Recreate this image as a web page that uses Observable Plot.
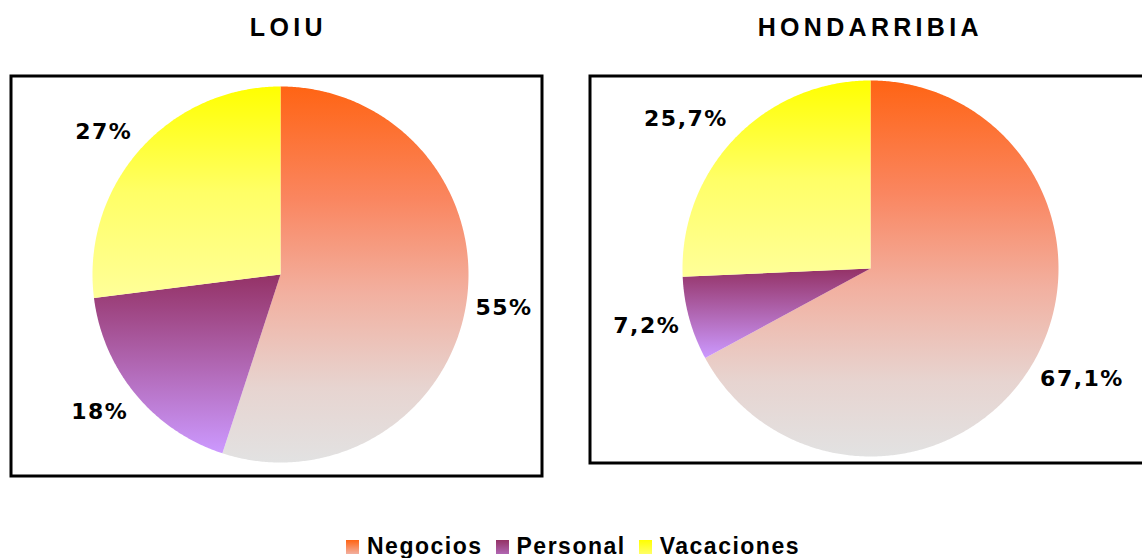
<!DOCTYPE html>
<html>
<head>
<meta charset="utf-8">
<script src="https://cdn.jsdelivr.net/npm/d3@7"></script>
<script src="https://cdn.jsdelivr.net/npm/@observablehq/plot@0.6"></script>
<style>
  html, body { margin: 0; padding: 0; background: #fff; }
  body { position: relative; width: 1142px; height: 558px; overflow: hidden; }
  .title { position: absolute; top: 15px; width: 300px; text-align: center;
    font-family: "Liberation Sans", Arial, sans-serif; font-weight: bold; font-size: 25px;
    line-height: 25px; letter-spacing: 4.3px; padding-left: 4.3px; color: #000; }
  .chart { position: absolute; }
  .chart svg { max-width: none !important; display: block; }
  .chart text { letter-spacing: 1.5px; }
  .legend { position: absolute; left: 346px; top: 535px; display: flex; align-items: center;
    font-family: "Liberation Sans", Arial, sans-serif; font-weight: bold; font-size: 23px;
    line-height: 23px; letter-spacing: 1.5px; color: #000; white-space: nowrap; }
  .legend .item { display: flex; align-items: center; margin-right: 13px; }
  .legend .sw { width: 13px; height: 14px; margin-right: 8px; }
</style>
</head>
<body>
<svg width="0" height="0" style="position:absolute">
  <defs id="defs"></defs>
</svg>
<div id="root"></div>
<script>
// ---- data ----
const categories = ["Negocios", "Personal", "Vacaciones"];
const airports = ["LOIU", "HONDARRIBIA"];
const loiuValues = [55, 18, 27];
const hondarribiaValues = [67.1, 7.2, 25.7];
const loiuLabels = ["55%", "18%", "27%"];
const hondarribiaLabels = ["67,1%", "7,2%", "25,7%"];

// ---- styles ----
const gradientStops = {
  Negocios: [[0, "#FF6414"], [0.3, "#FA8660"], [0.55, "#F2B0A0"], [0.8, "#E7D4D0"], [1, "#E2E2E2"]],
  Personal: [[0, "#943266"], [0.5, "#B066B2"], [1, "#CC99FF"]],
  Vacaciones: [[0, "#FFFF00"], [0.5, "#FFFF66"], [1, "#FFFF99"]]
};

// gradient defs
const defs = document.getElementById("defs");
const NS = "http://www.w3.org/2000/svg";
for (const c of categories) {
  const lg = document.createElementNS(NS, "linearGradient");
  lg.setAttribute("id", "g-" + c);
  lg.setAttribute("x1", "0"); lg.setAttribute("y1", "0");
  lg.setAttribute("x2", "0"); lg.setAttribute("y2", "1");
  for (const [o, col] of gradientStops[c]) {
    const s = document.createElementNS(NS, "stop");
    s.setAttribute("offset", o);
    s.setAttribute("stop-color", col);
    lg.appendChild(s);
  }
  defs.appendChild(lg);
}

function pieSlices(values) {
  const total = d3.sum(values);
  let acc = 0;
  return values.map((v, i) => {
    const a0 = acc / total * 2 * Math.PI;
    acc += v;
    const a1 = acc / total * 2 * Math.PI;
    const n = Math.max(2, Math.ceil((a1 - a0) / (Math.PI / 360)));
    const pts = [{x: 0, y: 0}];
    for (let k = 0; k <= n; k++) {
      const a = a0 + (a1 - a0) * k / n;
      pts.push({x: Math.sin(a), y: Math.cos(a)});
    }
    const mid = (a0 + a1) / 2;
    return {category: categories[i], pts, mid};
  });
}

function pieChart(values, labels, layout) {
  const {width, height, cx, cy, r} = layout;
  const slices = pieSlices(values);
  const lab = slices.map((s, i) => ({
    label: labels[i],
    x: 1.05 * Math.sin(s.mid),
    y: 1.15 * Math.cos(s.mid),
    right: Math.sin(s.mid) >= 0
  }));
  return Plot.plot({
    width, height,
    margin: 0,
    x: {type: "linear", domain: [-1, 1], range: [cx - r, cx + r], axis: null},
    y: {type: "linear", domain: [-1, 1], range: [cy + r, cy - r], axis: null},
    style: {background: "transparent", overflow: "visible", maxWidth: "none"},
    marks: [
      ...slices.map(s => Plot.line(s.pts, {
        x: "x", y: "y", curve: "linear-closed",
        fill: `url(#g-${s.category})`, stroke: "none"
      })),
      Plot.text(lab.filter(d => d.right), {
        x: "x", y: "y", text: "label", textAnchor: "start",
        fontFamily: "DejaVu Sans", fontWeight: "bold", fontSize: 22, fill: "#000"
      }),
      Plot.text(lab.filter(d => !d.right), {
        x: "x", y: "y", text: "label", textAnchor: "end",
        fontFamily: "DejaVu Sans", fontWeight: "bold", fontSize: 22, fill: "#000"
      }),
      Plot.frame({stroke: "#000", strokeWidth: 3, inset: 1.5})
    ]
  });
}

const root = document.getElementById("root");

const layouts = [
  {left: 9, top: 74, width: 534, height: 403, cx: 271, cy: 200, r: 188, titleCenter: 284},
  {left: 588, top: 74, width: 566, height: 390, cx: 282, cy: 194, r: 188, titleCenter: 866}
];
const allValues = [loiuValues, hondarribiaValues];
const allLabels = [loiuLabels, hondarribiaLabels];

airports.forEach((name, i) => {
  const L = layouts[i];
  const t = document.createElement("div");
  t.className = "title";
  t.textContent = name;
  t.style.left = (L.titleCenter - 150) + "px";
  root.appendChild(t);

  const wrap = document.createElement("div");
  wrap.className = "chart";
  wrap.style.left = L.left + "px";
  wrap.style.top = L.top + "px";
  wrap.style.width = L.width + "px";
  wrap.style.height = L.height + "px";
  wrap.appendChild(pieChart(allValues[i], allLabels[i], L));
  root.appendChild(wrap);
});

// legend
const legend = document.createElement("div");
legend.className = "legend";
for (const c of categories) {
  const item = document.createElement("div");
  item.className = "item";
  const sw = document.createElement("div");
  sw.className = "sw";
  const st = gradientStops[c];
  sw.style.background = `linear-gradient(to bottom, ${st[0][1]}, ${st[Math.floor(st.length / 2)][1]})`;
  const tx = document.createElement("span");
  tx.textContent = c;
  item.appendChild(sw);
  item.appendChild(tx);
  legend.appendChild(item);
}
root.appendChild(legend);
</script>
</body>
</html>
